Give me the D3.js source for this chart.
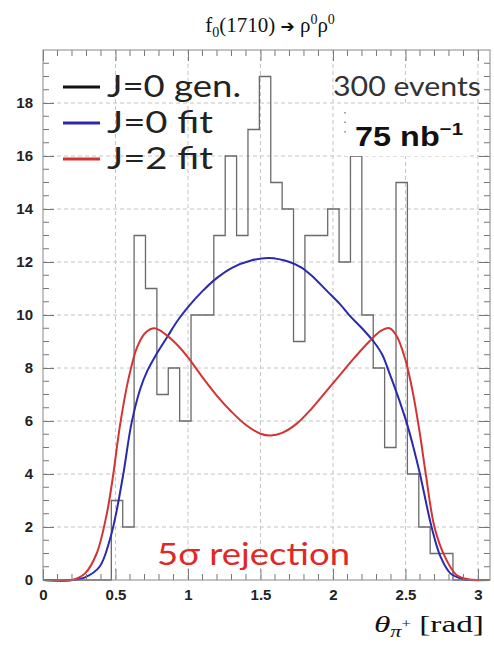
<!DOCTYPE html>
<html>
<head>
<meta charset="utf-8">
<script src="https://cdn.jsdelivr.net/npm/d3@7"></script>
<style>
  html, body { margin: 0; padding: 0; background: #fff; }
  svg { display: block; }
  .tick text { font-family: "Liberation Sans", Arial, sans-serif; font-weight: bold; font-size: 15px; fill: #222; }
</style>
</head>
<body>
<svg id="chart" width="494" height="646"></svg>
<script>
// ---- data ----
const nBins = 40;
const binCounts = [0, 0, 0, 0, 0, 0, 3, 2, 13, 11, 7, 8, 6, 10, 10, 13, 16, 13, 17, 19,
                   15, 14, 9, 13, 13, 14, 12, 16, 10, 8, 5, 15, 4, 2, 1, 1, 0, 0, 0, 0];

// J=0 fit curve, [theta, value]
const fitJ0 = [[0, 0], [0.2, 0], [0.29, 0.1], [0.39, 0.5], [0.46, 1.5], [0.5, 2.4], [0.554, 4.0],
  [0.61, 5.9], [0.67, 7.2], [0.72, 7.9], [0.78, 8.5], [0.86, 9.2], [0.93, 9.8], [1.0, 10.3],
  [1.1, 10.9], [1.2, 11.4], [1.31, 11.8], [1.43, 12.05], [1.56, 12.15], [1.7, 12.0], [1.78, 11.8],
  [1.85, 11.5], [1.96, 10.9], [2.05, 10.4], [2.12, 9.95], [2.2, 9.5], [2.28, 9.0], [2.34, 8.5],
  [2.39, 7.8], [2.45, 6.9], [2.51, 5.9], [2.56, 4.9], [2.6, 4.0], [2.68, 2.0], [2.74, 0.9],
  [2.81, 0.25], [2.9, 0.03], [2.95, 0], [3.08, 0]];

// J=2 fit curve
const fitJ2 = [[0, 0], [0.2, 0], [0.29, 0.25], [0.37, 1.0], [0.44, 2.5], [0.485, 4.0], [0.53, 5.8],
  [0.59, 7.6], [0.65, 8.8], [0.71, 9.35], [0.77, 9.5], [0.85, 9.25], [0.93, 8.85], [1.0, 8.4],
  [1.1, 7.65], [1.2, 6.95], [1.3, 6.35], [1.4, 5.85], [1.5, 5.52], [1.57, 5.45], [1.65, 5.55],
  [1.75, 5.9], [1.85, 6.45], [1.95, 7.1], [2.05, 7.75], [2.15, 8.4], [2.25, 9.0], [2.33, 9.4],
  [2.39, 9.5], [2.44, 9.2], [2.5, 8.3], [2.55, 7.1], [2.6, 5.5], [2.64, 4.0], [2.7, 2.0], [2.77, 0.9],
  [2.85, 0.2], [2.94, 0.02], [3.0, 0], [3.08, 0]];

const xMajor = [0, 0.5, 1, 1.5, 2, 2.5, 3];
const yMajor = [0, 2, 4, 6, 8, 10, 12, 14, 16, 18];

const legendItems = [
  {label: "J=0 gen.", color: "#111", len: 134},
  {label: "J=0 fit", color: "#2a2aad", len: 106},
  {label: "J=2 fit", color: "#d43333", len: 106}
];

// ---- layout ----
const svg = d3.select("#chart");
const frame = {left: 43, right: 490, top: 50, bottom: 580};
const sans = "Lato, 'Open Sans', sans-serif";
const serif = "'Liberation Serif', 'Times New Roman', serif";

const x = d3.scaleLinear().domain([0, 3.083]).range([frame.left, frame.right]);
const y = d3.scaleLinear().domain([0, 20]).range([frame.bottom, frame.top]);

const xMinor = d3.range(0, 3.09, 0.1).filter(v => !xMajor.some(m => Math.abs(m - v) < 1e-6));
const yMinor = d3.range(0, 20.01, 0.5).filter(v => v % 2 !== 0);

// gridlines
const grid = svg.append("g").attr("stroke", "#c4c4c4").attr("stroke-width", 1).attr("stroke-dasharray", "4,3");
grid.selectAll("line.gx").data(xMajor.slice(1)).enter().append("line")
  .attr("x1", d => x(d)).attr("x2", d => x(d))
  .attr("y1", frame.top).attr("y2", frame.bottom);
grid.selectAll("line.gy").data(yMajor.slice(1)).enter().append("line")
  .attr("x1", frame.left).attr("x2", frame.right)
  .attr("y1", d => y(d)).attr("y2", d => y(d));

// histogram (step outline)
const binW = Math.PI / nBins;
const stepPts = [];
binCounts.forEach((c, i) => {
  stepPts.push([i * binW, c]);
  stepPts.push([(i + 1) * binW, c]);
});
const histLine = d3.line().x(d => x(d[0])).y(d => y(d[1]));
svg.append("path")
  .datum(stepPts.filter(d => d[0] <= 3.083))
  .attr("d", histLine)
  .attr("fill", "none")
  .attr("stroke", "#6a6a6a")
  .attr("stroke-width", 1.3);

// fit curves
const curve = d3.line().x(d => x(d[0])).y(d => y(d[1])).curve(d3.curveCatmullRom.alpha(0.5));
svg.append("path").datum(fitJ0).attr("d", curve)
  .attr("fill", "none").attr("stroke", legendItems[1].color).attr("stroke-width", 2);
svg.append("path").datum(fitJ2).attr("d", curve)
  .attr("fill", "none").attr("stroke", legendItems[2].color).attr("stroke-width", 2);

// axes
const fmtX = d => d3.format("~g")(d);
svg.append("g")
  .attr("transform", `translate(0,${frame.bottom})`)
  .call(d3.axisBottom(x).tickValues(xMajor).tickSize(-11).tickPadding(9).tickFormat(fmtX))
  .call(g => g.select(".domain").remove());
svg.append("g")
  .attr("transform", `translate(${frame.left},0)`)
  .call(d3.axisLeft(y).tickValues(yMajor).tickSize(-11).tickPadding(10))
  .call(g => g.select(".domain").remove());
svg.append("g")
  .attr("transform", `translate(0,${frame.top})`)
  .call(d3.axisTop(x).tickValues(xMajor).tickSize(-11).tickFormat(""))
  .call(g => g.select(".domain").remove());
svg.append("g")
  .attr("transform", `translate(${frame.right},0)`)
  .call(d3.axisRight(y).tickValues(yMajor).tickSize(-11).tickFormat(""))
  .call(g => g.select(".domain").remove());

// minor ticks
const minor = svg.append("g").attr("stroke", "#777").attr("stroke-width", 1);
xMinor.forEach(v => {
  minor.append("line").attr("x1", x(v)).attr("x2", x(v)).attr("y1", frame.bottom).attr("y2", frame.bottom - 6);
  minor.append("line").attr("x1", x(v)).attr("x2", x(v)).attr("y1", frame.top).attr("y2", frame.top + 6);
});
yMinor.forEach(v => {
  minor.append("line").attr("x1", frame.left).attr("x2", frame.left + 6).attr("y1", y(v)).attr("y2", y(v));
  minor.append("line").attr("x1", frame.right).attr("x2", frame.right - 6).attr("y1", y(v)).attr("y2", y(v));
});
svg.selectAll(".tick line").attr("stroke", "#777");

// frame
svg.append("rect")
  .attr("x", frame.left).attr("y", frame.top)
  .attr("width", frame.right - frame.left).attr("height", frame.bottom - frame.top)
  .attr("fill", "none").attr("stroke", "#888").attr("stroke-width", 1);

// legend
const legend = svg.append("g");
legendItems.forEach((it, i) => {
  const ly = 87 + i * 36;
  legend.append("line").attr("x1", 63).attr("x2", 100).attr("y1", ly).attr("y2", ly)
    .attr("stroke", it.color).attr("stroke-width", 3);
  legend.append("text").attr("x", 107).attr("y", ly + 10)
    .attr("textLength", it.len).attr("lengthAdjust", "spacingAndGlyphs")
    .style("font-family", sans).style("font-size", "30px").attr("fill", "#222")
    .text(it.label);
});

// annotations
svg.append("text").attr("x", 333).attr("y", 96)
  .attr("textLength", 148).attr("lengthAdjust", "spacingAndGlyphs")
  .style("font-family", sans).style("font-size", "27px").attr("fill", "#333")
  .text("300 events");
svg.append("rect").attr("x", 345).attr("y", 106).attr("width", 125).attr("height", 50)
  .attr("fill", "#fff");
svg.append("line").attr("x1", 345).attr("x2", 345).attr("y1", 112).attr("y2", 140)
  .attr("stroke", "#888").attr("stroke-width", 1.5).attr("stroke-dasharray", "1.5,8");
const lumi = svg.append("text").attr("x", 355).attr("y", 146)
  .attr("textLength", 108).attr("lengthAdjust", "spacingAndGlyphs")
  .style("font-family", "'Liberation Sans', Arial, sans-serif").style("font-weight", "bold")
  .style("font-size", "27px").attr("fill", "#111");
lumi.append("tspan").text("75 nb");
lumi.append("tspan").attr("dy", -11).style("font-size", "17px").text("\u22121");

svg.append("text").attr("x", 157).attr("y", 565)
  .attr("textLength", 193).attr("lengthAdjust", "spacingAndGlyphs")
  .style("font-family", sans).style("font-size", "31px").attr("fill", "#e02828")
  .text("5σ rejection");

// title
const title = svg.append("text").attr("x", 270).attr("y", 32).attr("text-anchor", "middle")
  .style("font-family", serif).style("font-size", "21px").attr("fill", "#111");
title.append("tspan").text("f");
title.append("tspan").attr("dy", 5).style("font-size", "14px").text("0");
title.append("tspan").attr("dy", -5).text("(1710) ");
title.append("tspan").style("font-family", "'DejaVu Sans', sans-serif").style("font-size", "17px").text("\u2794");
title.append("tspan").text(" ρ");
title.append("tspan").attr("dy", -8).style("font-size", "14px").text("0");
title.append("tspan").attr("dy", 8).text("ρ");
title.append("tspan").attr("dy", -8).style("font-size", "14px").text("0");

// x-axis title
const xt = svg.append("text").attr("x", 374).attr("y", 632)
  .attr("textLength", 110).attr("lengthAdjust", "spacingAndGlyphs")
  .style("font-family", serif).style("font-size", "24px").attr("fill", "#111");
xt.append("tspan").style("font-style", "italic").text("θ");
xt.append("tspan").attr("dy", 5).style("font-style", "italic").style("font-size", "16px").text("π");
xt.append("tspan").attr("dy", -9).style("font-size", "12px").text("+");
xt.append("tspan").attr("dy", 4).text(" [rad]");
</script>
</body>
</html>
